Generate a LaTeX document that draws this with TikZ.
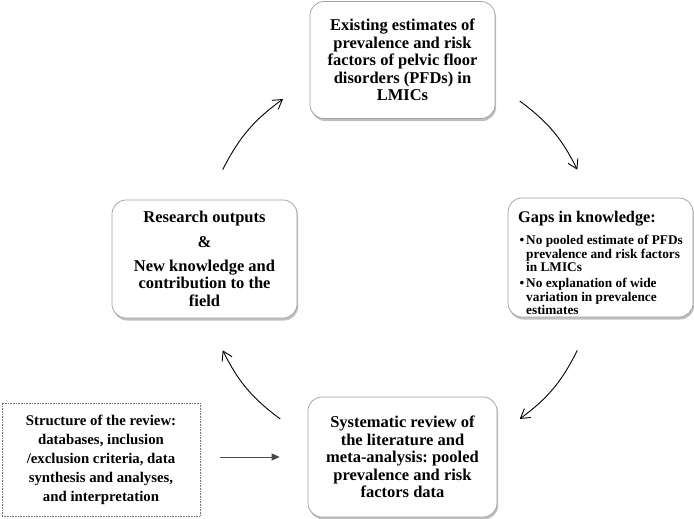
\documentclass[tikz,border=0pt]{standalone}
\usepackage{fontspec}
\setmainfont{Liberation Serif}
\usetikzlibrary{arrows.meta,shadows}
\frenchspacing
\begin{document}
\begin{tikzpicture}[x=1pt,y=-1pt,
  rbox/.style={draw=black!38, line width=0.7pt, rounded corners=14pt, fill=white,
    drop shadow={shadow xshift=1.2pt, shadow yshift=-2.5pt, opacity=0.45, fill=black!55},
    minimum width=185pt, minimum height=117pt, inner sep=0pt, align=center,
    font=\bfseries\fontsize{16.5}{17.5}\selectfont},
  dbox/.style={draw=black!55, densely dotted, line width=0.6pt, fill=white,
    minimum width=198pt, minimum height=113pt, inner sep=0pt, align=center,
    font=\bfseries\fontsize{14.8}{19}\selectfont},
  cyc/.style={-{Straight Barb[length=9pt,width=11pt]}, line width=0.9pt, black},
  feed/.style={-{Triangle[length=8pt,width=7pt]}, line width=0.9pt, black!72}
]
\useasboundingbox (0,0) rectangle (694,519);

\node[rbox] (top) at (402.5,60) {Existing estimates of\\prevalence and risk\\factors of pelvic floor\\disorders (PFDs) in\\LMICs};

\node[rbox, minimum height=119pt] (gaps) at (600.5,257.5) {};
\node[anchor=base west, inner sep=0pt, font=\bfseries] (gapstxt) at (518,222) {%
  \begin{minipage}[t]{180pt}\raggedright
  {\fontsize{16.3}{18}\selectfont Gaps in knowledge:\par}
  \vspace{9.5pt}
  \fontsize{13.3}{13.4}\selectfont
  \hangindent=8pt \hangafter=1 \hspace*{1.5pt}\makebox[6.5pt][l]{•}No pooled estimate of PFDs\newline prevalence and risk factors\newline in LMICs\par
  \vspace{2.5pt}
  \hangindent=8pt \hangafter=1 \hspace*{1.5pt}\makebox[6.5pt][l]{•}No explanation of wide\newline variation in prevalence\newline estimates\par
  \end{minipage}};

\node[rbox, minimum height=118pt] (res) at (204.5,259) {Research outputs\\[7pt]\&\\[6.5pt]New knowledge and\\contribution to the\\field};

\node[rbox, minimum width=189pt, minimum height=120pt] (sys) at (402.5,457) {Systematic review of\\the literature and\\meta-analysis: pooled\\prevalence and risk\\factors data};

\node[dbox] (struct) at (101,459.5) {Structure of the review:\\databases, inclusion\\/exclusion criteria, data\\synthesis and analyses,\\and interpretation};

\coordinate (ctr) at (400,260);
\coordinate (tlA) at ([shift={(-153:199)}]ctr);
\coordinate (tlB) at ([shift={(-126:199)}]ctr);
\coordinate (trA) at ([shift={(-53:199)}]ctr);
\coordinate (trB) at ([shift={(-27:199)}]ctr);
\coordinate (brA) at ([shift={(27:199)}]ctr);
\coordinate (brB) at ([shift={(53:199)}]ctr);
\coordinate (blA) at ([shift={(127:199)}]ctr);
\coordinate (blB) at ([shift={(153:199)}]ctr);

\draw[cyc] (tlA) to[bend left=13.5] (tlB);
\draw[cyc] (trA) to[bend left=13.5] (trB);
\draw[cyc] (brA) to[bend left=13.5] (brB);
\draw[cyc] (blA) to[bend left=13.5] (blB);

\draw[feed, shorten <=20pt, shorten >=28pt] (struct.east |- sys.west) -- (sys.west);
\end{tikzpicture}
\end{document}
